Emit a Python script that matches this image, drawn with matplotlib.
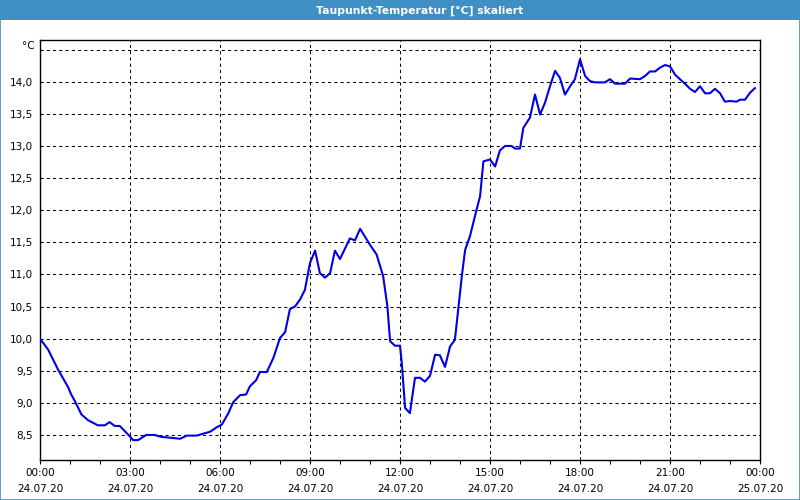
import matplotlib
matplotlib.use("Agg")
import matplotlib.pyplot as plt
from matplotlib.patches import Rectangle
from matplotlib.ticker import FixedLocator, MultipleLocator
import matplotlib.transforms as mtransforms

title = "Taupunkt-Temperatur [°C] skaliert"
unit = "°C"

# hours since 24.07.20 00:00 and dew point in °C
hours = [0.0, 0.27, 0.6, 0.93, 1.04, 1.16, 1.38, 1.6, 1.93, 2.16, 2.32, 2.49, 2.66,
         2.99, 3.1, 3.27, 3.54, 3.82, 4.04, 4.49, 4.67, 4.89, 5.22, 5.44, 5.67, 5.89,
         6.06, 6.28, 6.44, 6.67, 6.87, 7.0, 7.2, 7.33, 7.56, 7.78, 8.0, 8.17, 8.33,
         8.5, 8.67, 8.83, 9.0, 9.17, 9.33, 9.5, 9.67, 9.83, 10.0, 10.33, 10.5, 10.67,
         11.0, 11.22, 11.44, 11.58, 11.67, 11.83, 12.0, 12.06, 12.17, 12.33, 12.5,
         12.67, 12.83, 13.0, 13.17, 13.33, 13.5, 13.67, 13.83, 14.06, 14.17, 14.33,
         14.5, 14.67, 14.78, 15.0, 15.17, 15.33, 15.5, 15.72, 15.83, 16.0, 16.11,
         16.33, 16.5, 16.67, 16.83, 17.0, 17.17, 17.33, 17.5, 17.67, 17.83, 18.0,
         18.17, 18.33, 18.5, 18.83, 19.0, 19.17, 19.5, 19.67, 20.0, 20.17, 20.33,
         20.5, 20.67, 20.83, 21.0, 21.17, 21.33, 21.5, 21.67, 21.83, 22.0, 22.17,
         22.33, 22.5, 22.67, 22.83, 23.0, 23.22, 23.33, 23.5, 23.67, 23.83]
dewpoint = [10.0, 9.83, 9.52, 9.25, 9.13, 9.03, 8.82, 8.73, 8.65, 8.65, 8.70, 8.64, 8.64,
            8.48, 8.42, 8.42, 8.50, 8.50, 8.47, 8.45, 8.44, 8.49, 8.49, 8.52, 8.55, 8.62,
            8.66, 8.84, 9.01, 9.12, 9.13, 9.26, 9.35, 9.48, 9.48, 9.70, 10.01, 10.10, 10.46,
            10.50, 10.61, 10.76, 11.18, 11.37, 11.02, 10.95, 11.02, 11.37, 11.24, 11.56, 11.53, 11.71,
            11.46, 11.31, 10.97, 10.50, 9.96, 9.89, 9.89, 9.62, 8.92, 8.84, 9.39,
            9.39, 9.33, 9.42, 9.75, 9.74, 9.56, 9.88, 9.98, 10.97, 11.38, 11.59,
            11.91, 12.22, 12.76, 12.79, 12.68, 12.93, 13.0, 13.0, 12.96, 12.96, 13.28,
            13.44, 13.80, 13.49, 13.67, 13.93, 14.17, 14.06, 13.80, 13.93, 14.04, 14.35,
            14.09, 14.01, 13.99, 13.99, 14.04, 13.97, 13.97, 14.05, 14.04, 14.09, 14.16,
            14.16, 14.22, 14.26, 14.24, 14.11, 14.04, 13.97, 13.89, 13.84, 13.93, 13.82,
            13.82, 13.89, 13.82, 13.69, 13.70, 13.69, 13.72, 13.72, 13.83, 13.90]

xtick_hours = [0, 3, 6, 9, 12, 15, 18, 21, 24]
xtick_labels = ["00:00\n24.07.20", "03:00\n24.07.20", "06:00\n24.07.20", "09:00\n24.07.20",
                "12:00\n24.07.20", "15:00\n24.07.20", "18:00\n24.07.20", "21:00\n24.07.20",
                "00:00\n25.07.20"]
ytick_values = [8.5, 9.0, 9.5, 10.0, 10.5, 11.0, 11.5, 12.0, 12.5, 13.0, 13.5, 14.0]
grid_y = ytick_values + [14.5]

bar_blue = "#3d8fc4"

plt.rcParams['font.family'] = ['DejaVu Sans']
fig = plt.figure(figsize=(8, 5), dpi=100, facecolor="white")

# title bar and window frame
fig.patches.append(Rectangle((0, 0.96), 1, 0.04, transform=fig.transFigure,
                             facecolor=bar_blue, edgecolor="none", zorder=0))
fig.patches.append(Rectangle((0.0006, 0.001), 0.9988, 0.998, transform=fig.transFigure,
                             facecolor="none", edgecolor=bar_blue, linewidth=1.2, zorder=0))
fig.text(0.525, 0.979, title, color="white", fontsize=7.8, fontweight="bold",
         ha="center", va="center")

ax = fig.add_axes([0.05, 0.08, 0.90, 0.84])
ax.plot(hours, dewpoint, color="#0000e6", linewidth=1.5, zorder=3)

ax.set_xlim(0, 24)
ax.set_ylim(8.11, 14.65)

ax.xaxis.set_major_locator(FixedLocator(xtick_hours))
ax.set_xticklabels(xtick_labels, fontsize=7.5, linespacing=1.75)
ax.xaxis.set_minor_locator(MultipleLocator(1))
ax.tick_params(axis="x", which="both", direction="out", length=3, width=0.8, pad=3)

ax.set_yticks(ytick_values)
ax.set_yticklabels([f"{v:.1f}".replace(".", ",") for v in ytick_values], fontsize=7.5)
ax.tick_params(axis="y", length=0, pad=5)

for h in xtick_hours[1:-1]:
    ax.axvline(h, color="black", linewidth=0.75, linestyle=(0, (3, 3)), zorder=1)
for v in grid_y:
    ax.axhline(v, color="black", linewidth=0.75, linestyle=(0, (3, 3)), zorder=1)

for side in ["top", "bottom", "left", "right"]:
    ax.spines[side].set_linewidth(1.0)

trans = mtransforms.blended_transform_factory(ax.transAxes, ax.transData)
ax.text(-0.007, 14.56, unit, transform=trans, ha="right", va="center", fontsize=7.5)

fig.savefig("out.png", dpi=100, facecolor=fig.get_facecolor())
